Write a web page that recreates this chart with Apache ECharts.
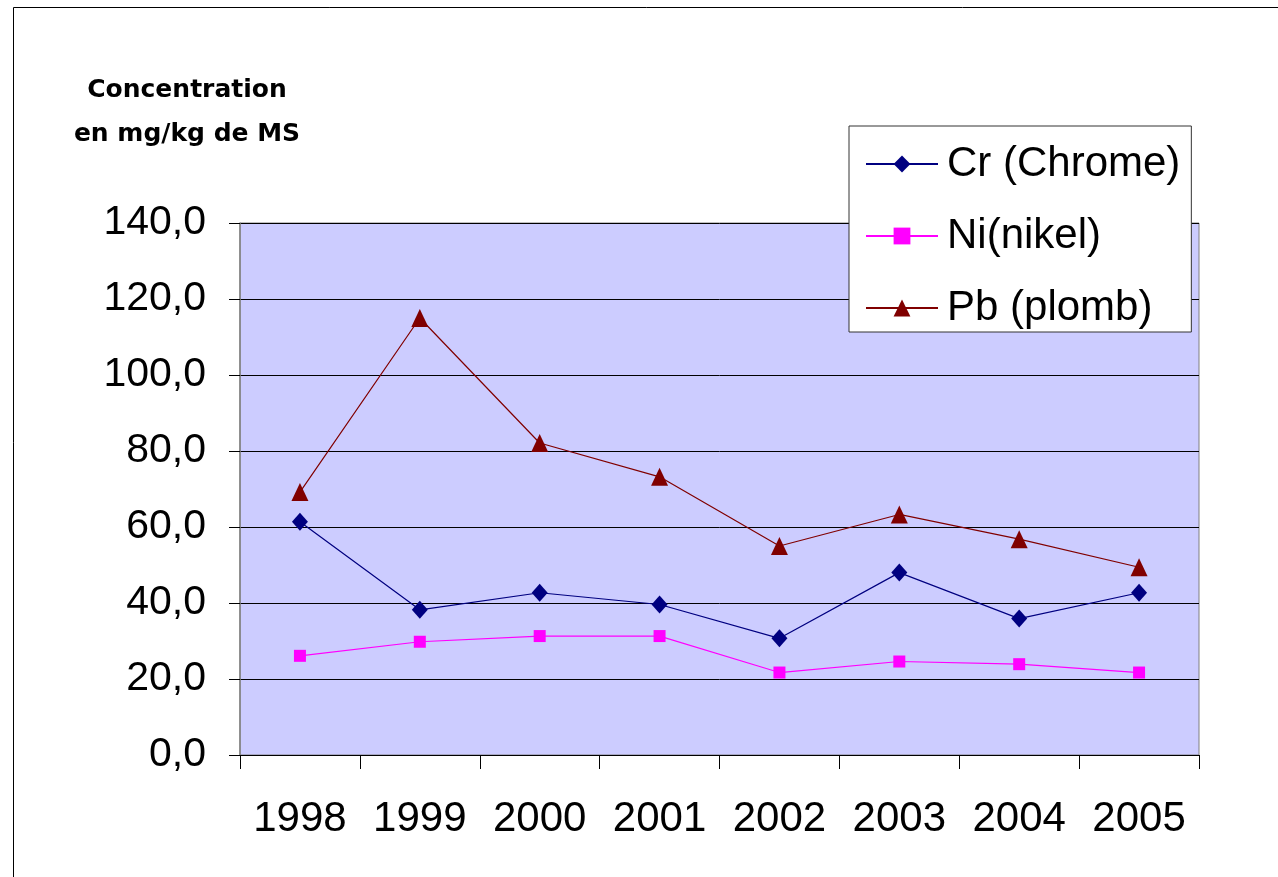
<!DOCTYPE html>
<html>
<head>
<meta charset="utf-8">
<script src="https://cdn.jsdelivr.net/npm/echarts@6/dist/echarts.min.js"></script>
<style>
html,body{margin:0;padding:0;background:#fff;}
#chart{width:1278px;height:877px;}
</style>
</head>
<body>
<div id="chart"></div>
<script>
var years = ['1998','1999','2000','2001','2002','2003','2004','2005'];
var crValues = [61.4, 38.2, 42.7, 39.6, 30.7, 48.0, 35.9, 42.7];
var niValues = [26.1, 29.8, 31.3, 31.3, 21.7, 24.6, 23.9, 21.7];
var pbValues = [69.2, 115.0, 82.1, 73.2, 55.0, 63.3, 56.8, 49.4];
var seriesNames = ['Cr (Chrome)', 'Ni(nikel)', 'Pb (plomb)'];
var yTitleLines = ['Concentration', 'en mg/kg de MS'];

var chart = echarts.init(document.getElementById('chart'), null, {renderer:'canvas'});
var FONT = '"Liberation Sans", Arial, sans-serif';
var option = {
  animation: false,
  backgroundColor: '#fff',
  graphic: [
    {type:'rect', z:0, shape:{x:13.5, y:7.5, width:1400, height:1000}, style:{fill:'none', stroke:'#000', lineWidth:1}},
    {type:'text', z:10, x:187, y:90, style:{text:yTitleLines[0], font:'bold 25px "DejaVu Sans", sans-serif', textAlign:'center', verticalAlign:'middle', textVerticalAlign:'middle', fill:'#000'}},
    {type:'text', z:10, x:187, y:134, style:{text:yTitleLines[1], font:'bold 25px "DejaVu Sans", sans-serif', textAlign:'center', verticalAlign:'middle', textVerticalAlign:'middle', fill:'#000'}}
  ],
  grid: {left:240, top:223, right:79, bottom:122, show:true, backgroundColor:'#CCCCFF', borderColor:'#808080', borderWidth:1},
  legend: {
    orient:'vertical', left:849, top:126,
    backgroundColor:'#fff', borderColor:'#333', borderWidth:1,
    padding:[17, 11, 3, 16],
    itemWidth:72, itemHeight:21, itemGap:30,
    textStyle:{fontFamily:FONT, fontSize:42, lineHeight:40, color:'#000', padding:[0,0,0,4]},
    data: seriesNames
  },
  xAxis: {
    type:'category', data:years, boundaryGap:true,
    axisLine:{lineStyle:{color:'#000', width:1}},
    axisTick:{show:true, interval:0, length:14, lineStyle:{color:'#000'}},
    axisLabel:{interval:0, hideOverlap:false, fontFamily:FONT, fontSize:42, color:'#000', margin:43}
  },
  yAxis: {
    type:'value', min:0, max:140, interval:20,
    axisLine:{show:true, lineStyle:{color:'#808080', width:1.5}},
    axisTick:{show:true, length:11, lineStyle:{color:'#000'}},
    splitLine:{show:true, lineStyle:{color:'#000', width:1}},
    axisLabel:{fontFamily:FONT, fontSize:41, color:'#000', margin:34, formatter:function(v){return v.toFixed(1).replace('.', ',');}}
  },
  series: [
    {name:seriesNames[0], type:'line', data:crValues, symbol:'diamond', symbolSize:[16,18], color:'#000080', lineStyle:{width:1.2, color:'#000080'}, itemStyle:{color:'#000080'}},
    {name:seriesNames[1], type:'line', data:niValues, symbol:'rect', symbolSize:12, color:'#FF00FF', lineStyle:{width:1.2, color:'#FF00FF'}, itemStyle:{color:'#FF00FF'}},
    {name:seriesNames[2], type:'line', data:pbValues, symbol:'triangle', symbolSize:[17,18], color:'#800000', lineStyle:{width:1.2, color:'#800000'}, itemStyle:{color:'#800000'}}
  ]
};
chart.setOption(option);
</script>
</body>
</html>
